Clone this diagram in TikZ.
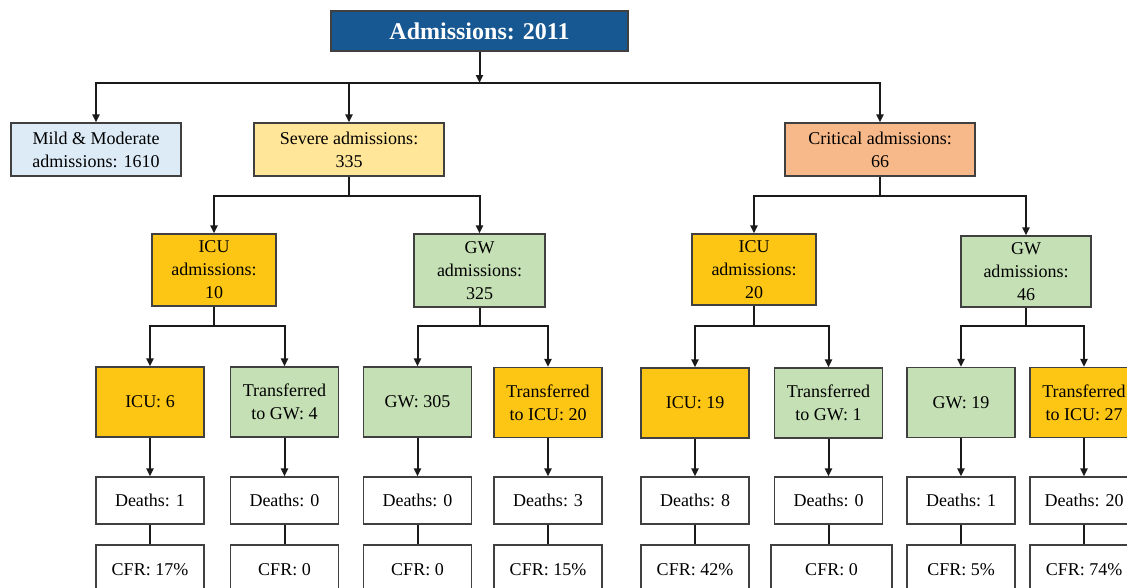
\documentclass[tikz,border=0pt]{standalone}
\usepackage{fontspec}
\setmainfont{Liberation Serif}
\usetikzlibrary{arrows.meta}
\definecolor{titleblue}{RGB}{23,88,146}
\definecolor{mildblue}{RGB}{221,235,247}
\definecolor{severeyel}{RGB}{255,230,153}
\definecolor{critorange}{RGB}{248,185,138}
\definecolor{icugold}{RGB}{253,197,20}
\definecolor{gwgreen}{RGB}{197,224,180}
\definecolor{boxgray}{RGB}{64,64,64}
\definecolor{linedark}{RGB}{26,26,26}

\tikzset{
  box/.style={draw=boxgray, line width=1.2pt, inner sep=0pt, align=center,
    font=\fontsize{18}{23}\selectfont},
  conn/.style={draw=linedark, line width=2pt},
  arr/.style={conn, -{Triangle[length=8pt,width=7pt]}},
}

\begin{document}
\begin{tikzpicture}[x=1pt,y=-1pt]
	\useasboundingbox (0,0) rectangle (1127,587);
	\clip (0,0) rectangle (1127,587);

	% top
	\node[box, fill=titleblue, text=white, font=\fontsize{24}{28}\bfseries,
		minimum width=297pt, minimum height=40pt] (total) at (479.5,31) {Admissions: 2011};

	% severity
	\node[box, fill=mildblue, minimum width=170pt, minimum height=53pt] (mild) at (96,149.5) {Mild \& Moderate\\admissions: 1610};
	\node[box, fill=severeyel, minimum width=190pt, minimum height=53pt] (severe) at (349,149.5) {Severe admissions:\\335};
	\node[box, fill=critorange, minimum width=190pt, minimum height=53pt] (critical) at (880,149.5) {Critical admissions:\\66};

	% first ward
	\node[box, fill=icugold, minimum width=124pt, minimum height=72pt] (sevicu) at (214,270) {ICU\\admissions:\\10};
	\node[box, fill=gwgreen, minimum width=131pt, minimum height=73pt] (sevgw) at (479.5,270.5) {GW\\admissions:\\325};
	\node[box, fill=icugold, minimum width=124pt, minimum height=71pt] (criticu) at (754,269.5) {ICU\\admissions:\\20};
	\node[box, fill=gwgreen, minimum width=130pt, minimum height=71pt] (critgw) at (1026,271.5) {GW\\admissions:\\46};

	% final ward
	\tikzset{ward/.style={box, minimum width=108pt, minimum height=70pt}}
	\node[ward, fill=icugold] (ward1) at (150,402) {ICU: 6};
	\node[ward, fill=gwgreen] (ward2) at (284.5,402) {Transferred\\to GW: 4};
	\node[ward, fill=gwgreen] (ward3) at (417.5,402) {GW: 305};
	\node[ward, fill=icugold] (ward4) at (548,402.5) {Transferred\\to ICU: 20};
	\node[ward, fill=icugold] (ward5) at (695,403) {ICU: 19};
	\node[ward, fill=gwgreen] (ward6) at (828.5,403) {Transferred\\to GW: 1};
	\node[ward, fill=gwgreen] (ward7) at (961,402.5) {GW: 19};
	\node[ward, fill=icugold] (ward8) at (1084,402.5) {Transferred\\to ICU: 27};

	% outcomes
	\foreach \n/\x/\cx/\w/\d/\c in {1/150/150/108/1/17\%, 2/284.5/284.5/108/0/0, 3/417.5/417.5/108/0/0,
		4/548/548/108/3/15\%, 5/695/695/108/8/42\%, 6/828.5/831.5/121/0/0, 7/961/961/108/1/5\%,
		8/1084/1084/108/20/74\%}
	{
		\node[box, fill=white, minimum width=108pt, minimum height=47pt] (death\n) at (\x,500.5) {Deaths: \d};
		\node[box, fill=white, minimum width=\w pt, minimum height=50pt] (cfr\n) at (\cx,570) {CFR: \c};
		\draw[conn] (death\n.south) -- (death\n.south |- cfr\n.north);
	}
	\draw[arr, line width=2.6pt] (ward1) -- (death1);
	\foreach \n in {2,...,8}
		\draw[arr] (ward\n) -- (death\n);

	% connectors
	\coordinate (bus0) at (479.5,83);
	\coordinate (bus1) at (349,196);
	\coordinate (bus2) at (880,196);
	\coordinate (bus3) at (214,326);
	\coordinate (bus4) at (479.5,326);
	\coordinate (bus5) at (754,326);
	\coordinate (bus6) at (1026,326);

	\draw[arr] (total) -- (bus0);
	\draw[arr] (bus0) -| (mild);
	\draw[arr] (bus0) -| (critical);
	\draw[arr] (severe.north |- bus0) -- (severe);

	\draw[conn] (severe) -- (bus1);
	\draw[arr] (bus1) -| (sevicu);
	\draw[arr] (bus1) -| (sevgw);
	\draw[conn] (critical) -- (bus2);
	\draw[arr] (bus2) -| (criticu);
	\draw[arr] (bus2) -| (critgw);

	\draw[conn] (sevicu) -- (bus3);
	\draw[arr] (bus3) -| (ward1);
	\draw[arr] (bus3) -| (ward2);
	\draw[conn] (sevgw) -- (bus4);
	\draw[arr] (bus4) -| (ward3);
	\draw[arr] (bus4) -| (ward4);
	\draw[conn] (criticu) -- (bus5);
	\draw[arr] (bus5) -| (ward5);
	\draw[arr] (bus5) -| (ward6);
	\draw[conn] (critgw) -- (bus6);
	\draw[arr] (bus6) -| (ward7);
	\draw[arr] (bus6) -| (ward8);
\end{tikzpicture}
\end{document}
